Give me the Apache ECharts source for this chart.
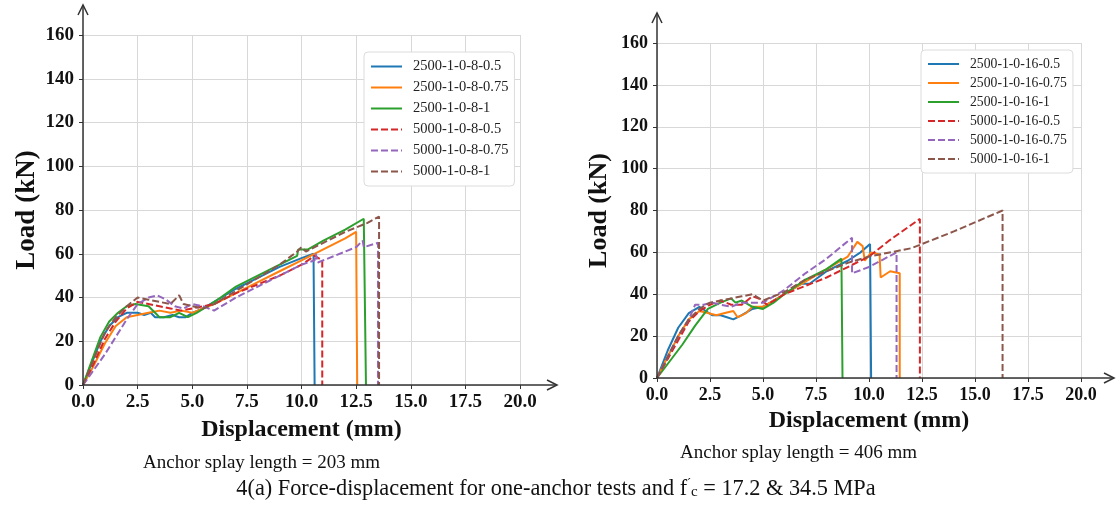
<!DOCTYPE html>
<html>
<head>
<meta charset="utf-8">
<script src="https://cdn.jsdelivr.net/npm/echarts@6/dist/echarts.min.js"></script>
<style>
  html, body { margin: 0; padding: 0; background: #fff; }
  #main { width: 1117px; height: 511px; }
</style>
</head>
<body>
<div id="main"></div>
<script>
// legend names
var leftNames = ['2500-1-0-8-0.5', '2500-1-0-8-0.75', '2500-1-0-8-1', '5000-1-0-8-0.5', '5000-1-0-8-0.75', '5000-1-0-8-1'];
var rightNames = ['2500-1-0-16-0.5', '2500-1-0-16-0.75', '2500-1-0-16-1', '5000-1-0-16-0.5', '5000-1-0-16-0.75', '5000-1-0-16-1'];
var xTicks = [0, 2.5, 5, 7.5, 10, 12.5, 15, 17.5, 20];
var yTicks = [0, 20, 40, 60, 80, 100, 120, 140, 160];

// splay length 203 mm  [displacement mm, load kN]
var blueL = [[0,0],[0.4,10],[0.8,20],[1.2,27],[1.6,31],[2.0,33],[2.5,33],[2.8,32],[3.1,33],[3.3,31],[3.7,31],[4.1,32],[4.4,31],[4.7,31],[5.0,33],[5.5,35],[6.0,38],[7.0,44],[8.0,49],[9.0,54],[10.0,58],[10.55,60],[10.6,0]];
var orangeL = [[0,0],[0.5,9],[1.0,19],[1.5,27],[2.0,31],[2.5,32],[3.0,33],[3.5,34],[4.0,33],[4.5,34],[5.0,33],[5.5,35],[6.0,37],[7.0,42],[8.0,47],[9.0,52],[10.0,57],[11.0,62],[12.0,67],[12.5,70],[12.55,0]];
var greenL = [[0,0],[0.4,11],[0.8,22],[1.2,29],[1.6,33],[2.0,36],[2.4,37],[3.0,36],[3.3,33],[3.5,31],[4.0,31],[4.4,33],[4.8,31],[5.2,33],[5.7,36],[6.3,40],[7.0,45],[8.0,50],[9.0,55],[9.8,59],[9.85,62],[10.3,62],[11.0,66],[12.0,71],[12.85,76],[12.95,0]];
var redL = [[0,0],[0.5,10],[1.0,21],[1.5,29],[2.0,35],[2.5,38],[3.0,37],[3.5,36],[4.0,35],[4.5,34],[5.0,35],[5.5,36],[6.0,37],[7.0,42],[8.0,46],[9.0,50],[10.0,55],[10.6,59],[10.95,57],[10.95,0]];
var purpleL = [[0,0],[0.5,7],[1.0,14],[1.5,22],[2.0,30],[2.5,37],[3.0,40],[3.4,41],[3.8,39],[4.2,36],[4.6,35],[5.0,37],[5.5,36],[6.0,34],[7.0,40],[8.0,45],[9.0,50],[10.0,55],[10.6,57],[10.65,60],[10.75,56],[11.5,59],[12.5,63],[12.8,66],[12.85,63],[13.5,65],[13.5,0]];
var brownL = [[0,0],[0.5,12],[1.0,24],[1.5,31],[2.0,36],[2.5,40],[3.0,39],[3.5,38],[4.0,37],[4.4,41],[4.6,37],[5.0,36],[5.5,35],[6.0,37],[7.0,43],[8.0,49],[9.0,55],[9.8,61],[10.0,63],[10.2,61],[11.0,65],[12.0,70],[13.0,74],[13.55,77],[13.55,0]];

// splay length 406 mm
var blueR = [[0,0],[0.5,13],[1.0,24],[1.5,31],[2.0,34],[2.3,32],[2.6,30],[3.0,30],[3.3,29],[3.6,28],[4.0,30],[4.5,33],[5.0,34],[6.0,40],[6.8,45],[7.2,45],[8.0,51],[9.0,56],[9.6,60],[10.05,64],[10.1,0]];
var orangeR = [[0,0],[0.5,10],[1.0,20],[1.5,28],[2.0,32],[2.4,31],[2.8,30],[3.2,31],[3.6,32],[3.8,29],[4.2,31],[4.5,34],[5.0,34],[6.0,40],[7.0,46],[8.0,52],[9.0,58],[9.45,65],[9.7,63],[9.8,56],[10.1,60],[10.5,59],[10.55,48],[11.0,51],[11.45,50],[11.45,0]];
var greenR = [[0,0],[0.6,8],[1.2,16],[1.8,25],[2.4,33],[3.0,36],[3.5,38],[3.7,36],[4.0,37],[4.5,34],[5.0,33],[5.5,36],[6.0,40],[7.0,47],[8.0,52],[8.7,57],[8.75,0]];
var redR = [[0,0],[0.5,9],[1.0,18],[1.5,27],[2.0,32],[2.5,35],[3.0,37],[3.5,35],[4.0,35],[4.5,39],[4.8,38],[5.2,35],[6.0,40],[7.0,44],[8.0,48],[9.0,53],[10.0,58],[11.0,66],[12.4,76],[12.4,0]];
var purpleR = [[0,0],[0.5,10],[1.0,20],[1.5,28],[1.8,35],[2.2,35],[2.6,36],[3.0,35],[3.5,34],[4.0,36],[4.5,36],[5.0,36],[6.0,42],[7.0,50],[8.0,57],[9.2,67],[9.2,50],[10.0,53],[11.3,60],[11.3,0]];
var brownR = [[0,0],[0.5,10],[1.0,20],[1.5,28],[2.0,33],[2.5,36],[3.0,37],[3.5,38],[4.0,39],[4.5,40],[5.0,37],[6.0,41],[7.0,47],[8.0,51],[9.0,55],[10.0,58],[12.0,62],[14.0,70],[16.3,80],[16.3,0]];

var colors = ['#1f77b4', '#ff7f0e', '#2ca02c', '#d62728', '#9467bd', '#8c564b'];
var dashed = [false, false, false, true, true, true];
var serif = '"Liberation Serif", "Times New Roman", serif';

var gridL = {left: 83, top: 35, width: 437, height: 350};
var gridR = {left: 657, top: 43, width: 424, height: 335};

var chart = echarts.init(document.getElementById('main'), null, {renderer: 'canvas'});

function makeSeries(list, names, idx) {
    return list.map(function (d, i) {
        return {
            name: names[i],
            type: 'line',
            xAxisIndex: idx,
            yAxisIndex: idx,
            data: d,
            symbol: 'none',
            showSymbol: false,
            animation: false,
            lineStyle: {color: colors[i], width: 2, type: dashed[i] ? [7, 3] : 'solid'},
            itemStyle: {color: colors[i]}
        };
    });
}

function xAxis(idx, fs, nfs, gap) {
    return {
        type: 'value', gridIndex: idx, min: xTicks[0], max: xTicks[xTicks.length - 1], interval: 2.5,
        name: 'Displacement (mm)', nameLocation: 'middle', nameGap: gap,
        nameTextStyle: {fontFamily: serif, fontWeight: 'bold', fontSize: nfs, color: '#111'},
        axisLine: {show: false},
        axisTick: {show: true, length: 4, lineStyle: {color: '#333'}},
        axisLabel: {fontFamily: serif, fontWeight: 'bold', fontSize: fs, color: '#111', margin: 8,
            formatter: function (v) { return v.toFixed(1); }},
        splitLine: {show: true, lineStyle: {color: '#d8d8d8', width: 1}}
    };
}

function yAxis(idx, fs, gap) {
    return {
        type: 'value', gridIndex: idx, min: yTicks[0], max: yTicks[yTicks.length - 1], interval: 20,
        name: 'Load (kN)', nameLocation: 'middle', nameGap: gap,
        nameTextStyle: {fontFamily: serif, fontWeight: 'bold', fontSize: fs + 8, color: '#111'},
        axisLine: {show: false},
        axisTick: {show: true, length: 4, lineStyle: {color: '#333'}},
        axisLabel: {fontFamily: serif, fontWeight: 'bold', fontSize: fs, color: '#111', margin: 9},
        splitLine: {show: true, lineStyle: {color: '#d8d8d8', width: 1}}
    };
}

function legend(names, left, top, gap, fs) {
    return {
        data: names, orient: 'vertical', left: left, top: top,
        itemWidth: 31, itemHeight: 14, itemGap: gap,
        padding: [7, 6, 7, 6],
        itemStyle: {opacity: 0, borderWidth: 0},
        backgroundColor: '#fff', borderColor: '#dcdcdc', borderWidth: 1, borderRadius: 4,
        textStyle: {fontFamily: serif, fontSize: fs, color: '#222', padding: [0, 0, 0, 6]}
    };
}

// axis lines with open arrow heads, from the grid layout
function arrows(g, xEnd, yEnd) {
    var x0 = g.left, y0 = g.top + g.height;
    var st = {stroke: '#333', lineWidth: 1.5, fill: null};
    return [
        {type: 'polyline', shape: {points: [[x0, y0], [x0, yEnd]]}, style: st, z: 50},
        {type: 'polyline', shape: {points: [[x0 - 5, yEnd + 10], [x0, yEnd], [x0 + 5, yEnd + 10]]}, style: st, z: 50},
        {type: 'polyline', shape: {points: [[x0, y0], [xEnd, y0]]}, style: st, z: 50},
        {type: 'polyline', shape: {points: [[xEnd - 10, y0 - 5], [xEnd, y0], [xEnd - 10, y0 + 5]]}, style: st, z: 50}
    ];
}

var texts = [
    {type: 'text', x: 143, y: 454, style: {text: 'Anchor splay length = 203 mm', font: '19px ' + serif, fill: '#111'}},
    {type: 'text', x: 680, y: 444, style: {text: 'Anchor splay length = 406 mm', font: '19px ' + serif, fill: '#111'}},
    {type: 'text', x: 556, y: 478, style: {
        text: '4(a) Force-displacement for one-anchor tests and f{sup|\u02CA}{sub|c} = 17.2 & 34.5 MPa',
        font: '22.3px ' + serif, fill: '#111', align: 'center',
        rich: {
            sup: {fontFamily: serif, fontSize: 12, verticalAlign: 'top', fill: '#111'},
            sub: {fontFamily: serif, fontSize: 15, verticalAlign: 'bottom', padding: [6, 0, 0, 0], fill: '#111'}
        }
    }}
];

chart.setOption({
    backgroundColor: '#fff',
    animation: false,
    grid: [
        {left: gridL.left, top: gridL.top, width: gridL.width, height: gridL.height},
        {left: gridR.left, top: gridR.top, width: gridR.width, height: gridR.height}
    ],
    xAxis: [xAxis(0, 19, 24, 33), xAxis(1, 18, 24, 28)],
    yAxis: [yAxis(0, 19, 42), yAxis(1, 18, 45)],
    legend: [legend(leftNames, 364, 52, 6, 14.5), legend(rightNames, 921, 50, 5, 13.7)],
    series: makeSeries([blueL, orangeL, greenL, redL, purpleL, brownL], leftNames, 0)
        .concat(makeSeries([blueR, orangeR, greenR, redR, purpleR, brownR], rightNames, 1)),
    graphic: arrows(gridL, 557, 5).concat(arrows(gridR, 1114, 13)).concat(texts)
});
</script>
</body>
</html>
